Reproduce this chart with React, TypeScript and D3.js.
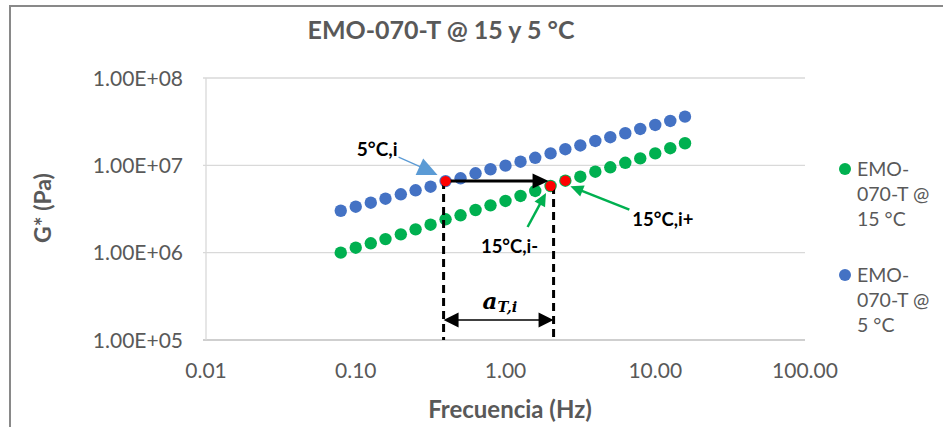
import React from 'react';
import * as d3 from 'd3';

// frecuencias (Hz)
const freq = [0.0794, 0.1, 0.126, 0.158, 0.2, 0.251, 0.316, 0.398, 0.501, 0.631, 0.794, 1.0,
  1.26, 1.58, 2.0, 2.51, 3.16, 3.98, 5.01, 6.31, 7.94, 10.0, 12.6, 15.8];

// G* (Pa) a 15 °C
const g15 = [1.0e6, 1.14e6, 1.28e6, 1.43e6, 1.62e6, 1.85e6, 2.09e6, 2.41e6, 2.68e6, 3.08e6, 3.48e6, 3.91e6,
  4.46e6, 5.09e6, 5.8e6, 6.67e6, 7.41e6, 8.46e6, 9.49e6, 1.07e7, 1.2e7, 1.37e7, 1.57e7, 1.79e7];

// G* (Pa) a 5 °C
const g5 = [3.02e6, 3.36e6, 3.73e6, 4.15e6, 4.66e6, 5.18e6, 5.69e6, 6.6e6, 7.11e6, 8.11e6, 9.02e6, 9.92e6,
  1.1e7, 1.22e7, 1.37e7, 1.53e7, 1.69e7, 1.9e7, 2.1e7, 2.33e7, 2.61e7, 2.9e7, 3.22e7, 3.61e7];

const xTicks = [0.01, 0.1, 1, 10, 100];
const yTicks = [1e5, 1e6, 1e7, 1e8];

// puntos resaltados: [serie, indice]
const highlighted: [string, number][] = [['5', 7], ['15', 14], ['15', 15]];

const FONT = 'Lato, "Open Sans", sans-serif';
const GRAY = '#595959';

const margin = { left: 206, right: 805, top: 78, bottom: 340 };

function arrowHead(x1: number, y1: number, x2: number, y2: number, len: number, hw: number) {
  const a = Math.atan2(y2 - y1, x2 - x1);
  const bx = x2 - len * Math.cos(a);
  const by = y2 - len * Math.sin(a);
  const px = -Math.sin(a) * hw;
  const py = Math.cos(a) * hw;
  return `M${x2},${y2}L${bx + px},${by + py}L${bx - px},${by - py}Z`;
}

function Arrow({ x1, y1, x2, y2, color, width, len, hw }: any) {
  const a = Math.atan2(y2 - y1, x2 - x1);
  const ex = x2 - len * 0.8 * Math.cos(a);
  const ey = y2 - len * 0.8 * Math.sin(a);
  return (
    <g>
      <line x1={x1} y1={y1} x2={ex} y2={ey} stroke={color} strokeWidth={width} />
      <path d={arrowHead(x1, y1, x2, y2, len, hw)} fill={color} />
    </g>
  );
}

export default function App() {
  const x = d3.scaleLog().domain([0.01, 100]).range([margin.left, margin.right]);
  const y = d3.scaleLog().domain([1e5, 1e8]).range([margin.bottom, margin.top]);

  const series = [
    { key: '15', values: g15, color: '#00B050', label: ['EMO-', '070-T @', '15 °C'] },
    { key: '5', values: g5, color: '#4472C4', label: ['EMO-', '070-T @', '5 °C'] },
  ];

  const pt = (key: string, i: number) => {
    const vals = key === '5' ? g5 : g15;
    return { x: x(freq[i]), y: y(vals[i]) };
  };
  const P1 = pt('5', 7);
  const P2 = pt('15', 14);
  const P3 = pt('15', 15);
  const dashL = P1.x - 2;
  const dashR = P2.x + 3;
  const aY = 320;

  return (
    <svg width={943} height={427} style={{ position: 'absolute', left: 0, top: 0 }} fontFamily={FONT}>
      <rect x={0} y={0} width={943} height={427} fill="#fff" />
      <rect x={10} y={6} width={1000} height={500} fill="none" stroke="#898989" strokeWidth={2} />

      <text x={441} y={39} textAnchor="middle" fontSize={25} fontWeight="bold" fill={GRAY}>
        EMO-070-T @ 15 y 5 °C
      </text>

      {/* rejilla */}
      {yTicks.map((t) => (
        <line key={t} x1={margin.left - 3} x2={margin.right} y1={y(t)} y2={y(t)}
          stroke={t === 1e5 ? '#BFBFBF' : '#D9D9D9'} strokeWidth={1.3} />
      ))}
      <line x1={margin.left} x2={margin.left} y1={margin.top} y2={margin.bottom} stroke="#D9D9D9" strokeWidth={1.3} />

      {yTicks.map((t) => (
        <text key={t} x={183} y={y(t) + 7.5} textAnchor="end" fontSize={21} fill={GRAY}>
          {t.toExponential(2).toUpperCase().replace(/E\+(\d)$/, 'E+0$1')}
        </text>
      ))}
      {xTicks.map((t) => (
        <text key={t} x={x(t)} y={378} textAnchor="middle" fontSize={21} fill={GRAY}>
          {t.toFixed(2)}
        </text>
      ))}

      <text x={510} y={418} textAnchor="middle" fontSize={24} fontWeight="bold" fill={GRAY}>
        Frecuencia (Hz)
      </text>
      <text transform="translate(51,208) rotate(-90)" textAnchor="middle" fontSize={23} fontWeight="bold" fill={GRAY}>
        G* (Pa)
      </text>

      {/* series */}
      {series.map((s) => (
        <g key={s.key}>
          {s.values.map((v, i) => (
            <circle key={i} cx={x(freq[i])} cy={y(v)} r={6.2} fill={s.color} />
          ))}
        </g>
      ))}

      {/* flechas y cotas */}
      <line x1={dashL} x2={dashL} y1={P1.y} y2={margin.bottom} stroke="#000" strokeWidth={3} strokeDasharray="8,5" />
      <line x1={dashR} x2={dashR} y1={P2.y} y2={margin.bottom} stroke="#000" strokeWidth={3} strokeDasharray="8,5" />
      <Arrow x1={P1.x} y1={P1.y} x2={P2.x - 2} y2={P1.y} color="#000" width={3} len={16} hw={7.5} />

      {highlighted.map(([k, i]) => {
        const p = pt(k, i);
        return <circle key={k + i} cx={p.x} cy={p.y} r={5.2} fill="#FF0000" />;
      })}

      <line x1={dashL + 12} x2={dashR - 12} y1={aY} y2={aY} stroke="#000" strokeWidth={1.5} />
      <path d={arrowHead(dashR, aY, dashL, aY, 15, 7.5)} fill="#000" />
      <path d={arrowHead(dashL, aY, dashR, aY, 15, 7.5)} fill="#000" />
      <text x={(dashL + dashR) / 2 - 16} y={309} fontFamily='"DejaVu Serif", serif' fontStyle="italic" fontWeight="bold" fill="#000">
        <tspan fontSize={23}>a</tspan>
        <tspan fontSize={14.5} dy={3}>T,i</tspan>
      </text>

      <text x={P1.x - 48} y={P1.y - 25} textAnchor="end" fontSize={19} fontWeight="bold" fill="#000">5°C,i</text>
      <line x1={P1.x - 47} y1={P1.y - 24} x2={P1.x - 20} y2={P1.y - 12} stroke="#5B9BD5" strokeWidth={1.2} />
      <path d={arrowHead(P1.x - 47, P1.y - 24, P1.x - 8, P1.y - 6, 20, 9)} fill="#5B9BD5" />

      <text x={P2.x - 41} y={P2.y + 67} textAnchor="middle" fontSize={18.5} fontWeight="bold" fill="#000">15°C,i-</text>
      <Arrow x1={P2.x - 23} y1={P2.y + 41} x2={P2.x - 4.6} y2={P2.y + 7} color="#00B050" width={2.5} len={13} hw={6} />

      <text x={P3.x + 67} y={P3.y + 45} fontSize={18.5} fontWeight="bold" fill="#000">15°C,i+</text>
      <Arrow x1={P3.x + 64} y1={P3.y + 29} x2={P3.x + 5} y2={P3.y + 5.5} color="#00B050" width={2.5} len={13} hw={6} />

      {/* leyenda */}
      {series.map((s, j) => (
        <g key={s.key} transform={`translate(845,${169 + j * 106})`}>
          <circle cx={0} cy={0} r={6} fill={s.color} />
          {s.label.map((l, k) => (
            <text key={k} x={12} y={7 + k * 25} fontSize={19.5} fill={GRAY}>{l}</text>
          ))}
        </g>
      ))}
    </svg>
  );
}
